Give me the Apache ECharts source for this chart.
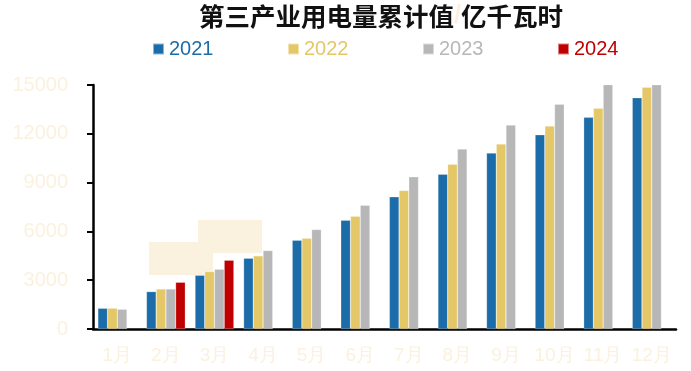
<!DOCTYPE html>
<html>
<head>
<meta charset="utf-8">
<script src="https://cdn.jsdelivr.net/npm/echarts@6/dist/echarts.min.js"></script>
<style>
  html, body { margin: 0; padding: 0; background: #fff; }
  #chart { width: 691px; height: 371px; }
</style>
</head>
<body>
<div id="chart"></div>
<script>
// Cumulative tertiary-industry electricity consumption, 100 million kWh
const months = ['1月', '2月', '3月', '4月', '5月', '6月', '7月', '8月', '9月', '10月', '11月', '12月'];
const years = ['2021', '2022', '2023', '2024'];
const values2021 = [1275, 2300, 3305, 4350, 5460, 6690, 8125, 9520, 10815, 11940, 13010, 14220];
const values2022 = [1280, 2460, 3530, 4495, 5585, 6935, 8520, 10135, 11370, 12475, 13565, 14860];
const values2023 = [1215, 2460, 3675, 4825, 6115, 7615, 9355, 11060, 12535, 13810, 15150, 16694];
const values2024 = [null, 2874, 4228, null, null, null, null, null, null, null, null, null];
const yTicks = { min: 0, max: 15000, interval: 3000 };

const colors = ['#1b6ca8', '#e4c767', '#b7b7b7', '#c00000'];
const seriesValues = [values2021, values2022, values2023, values2024];
const paleText = '#fbf1de';
const font = '"Liberation Sans", Arial, sans-serif';

const chart = echarts.init(document.getElementById('chart'), null, { renderer: 'canvas' });

chart.setOption({
  animation: false,
  backgroundColor: '#ffffff',
  title: {
    text: '{a|第三产业用电量累计值}{s|/}{a|亿千瓦时}',
    left: 376,
    textAlign: 'center',
    top: -2,
    textStyle: {
      rich: {
        a: { fontFamily: '"Noto Sans CJK SC"', fontWeight: 'bold', fontSize: 25.5, color: '#111' },
        s: { fontFamily: font, fontSize: 25.5, color: paleText }
      }
    }
  },
  legend: {
    left: 147,
    top: 34,
    icon: 'rect',
    itemWidth: 11,
    itemHeight: 11,
    itemGap: 73.5,
    textStyle: { fontFamily: font, fontSize: 20 },
    data: years.map((y, i) => ({ name: y, textStyle: { color: colors[i] } }))
  },
  grid: { left: 93, right: 15, top: 85, bottom: 42, containLabel: false },
  xAxis: {
    type: 'category',
    data: months,
    axisLine: { lineStyle: { color: '#000', width: 2.5 } },
    axisTick: { length: 6, lineStyle: { color: '#000', width: 2 } },
    axisLabel: { color: paleText, fontFamily: font, fontSize: 19, margin: 17, interval: 0 }
  },
  yAxis: {
    type: 'value',
    min: yTicks.min,
    max: yTicks.max,
    interval: yTicks.interval,
    splitLine: { show: false },
    axisLine: { show: true, lineStyle: { color: '#000', width: 2.5 } },
    axisTick: { show: true, length: 6, lineStyle: { color: '#000', width: 2 } },
    axisLabel: { color: paleText, fontFamily: font, fontSize: 20, margin: 25, formatter: v => String(v) }
  },
  graphic: [
    { type: 'rect', z: 0, shape: { x: 149, y: 242, width: 64, height: 33 }, style: { fill: '#faf2df' } },
    { type: 'rect', z: 0, shape: { x: 198, y: 220, width: 64, height: 33 }, style: { fill: '#faf2df' } }
  ],
  series: years.map((y, i) => ({
    name: y,
    type: 'bar',
    data: seriesValues[i],
    barGap: '0%',
    barCategoryGap: '20%',
    clip: true,
    z: 3,
    itemStyle: { color: colors[i], borderColor: 'rgba(255,255,255,0.5)', borderWidth: 0.5 }
  }))
});
</script>
</body>
</html>
